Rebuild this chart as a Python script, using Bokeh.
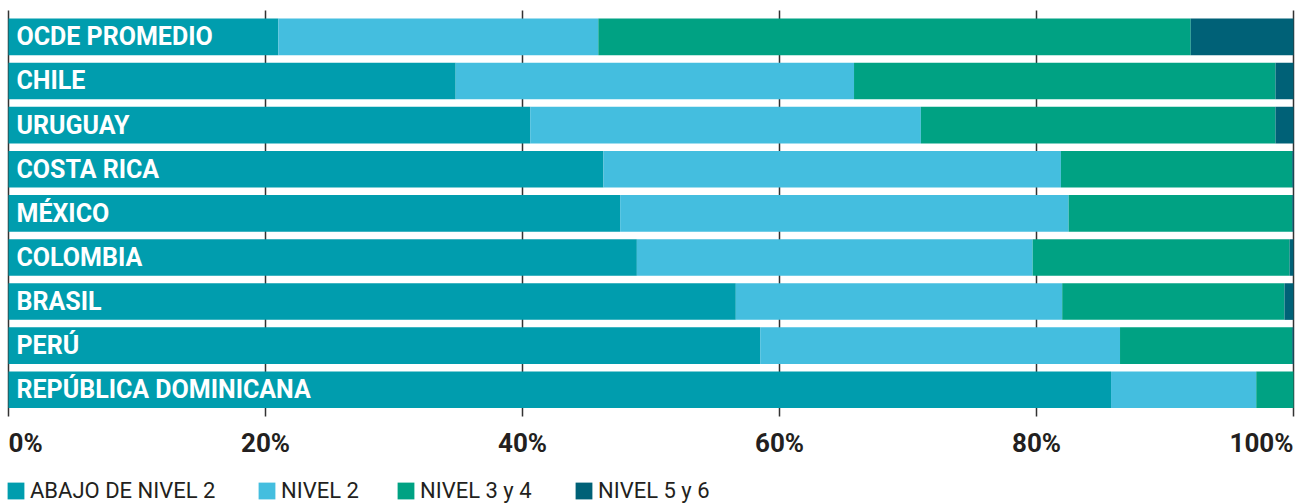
from bokeh.plotting import figure
from bokeh.models import ColumnDataSource, Range1d, Legend, LegendItem
from bokeh.core.properties import value
from bokeh.embed import file_html
from bokeh.resources import INLINE

# Share of students by proficiency level (%), top row first
countries = ["OCDE PROMEDIO", "CHILE", "URUGUAY", "COSTA RICA", "MÉXICO",
             "COLOMBIA", "BRASIL", "PERÚ", "REPÚBLICA DOMINICANA"]
below_2 = [21.0, 34.8, 40.6, 46.3, 47.6, 48.9, 56.6, 58.5, 85.8]
level_2 = [24.9, 31.0, 30.4, 35.6, 34.9, 30.8, 25.4, 28.0, 11.3]
level_3_4 = [46.1, 32.8, 27.6, 18.0, 17.4, 20.0, 17.3, 13.4, 2.9]
level_5_6 = [8.0, 1.4, 1.4, 0.1, 0.1, 0.3, 0.7, 0.1, 0.0]

series_keys = ["below_2", "level_2", "level_3_4", "level_5_6"]
series_names = ["ABAJO DE NIVEL 2", "NIVEL 2", "NIVEL 3 y 4", "NIVEL 5 y 6"]
series_colors = ["#009dae", "#44bedf", "#00a283", "#006177"]

tick_values = [0, 20, 40, 60, 80, 100]
tick_labels = ["0%", "20%", "40%", "60%", "80%", "100%"]

W, H = 1306, 503
n = len(countries)

# pixel geometry of the plotting area (the frame spans the whole canvas)
x0_px, x100_px = 8.0, 1293.0
px_per_pct = (x100_px - x0_px) / 100.0
row_pitch = 44.12          # pixels between bar centres
bottom_row_px = 389.3      # centre of the last bar, from the top


def y_at(py):
    """Data y for a pixel row measured from the top of the canvas."""
    return (bottom_row_px - py) / row_pitch


source = ColumnDataSource(dict(
    country=countries,
    pos=[n - 1 - i for i in range(n)],
    below_2=below_2,
    level_2=level_2,
    level_3_4=level_3_4,
    level_5_6=level_5_6,
))

p = figure(width=W, height=H, output_backend="svg", toolbar_location=None,
           x_range=Range1d(-x0_px / px_per_pct, 100 + (W - x100_px) / px_per_pct),
           y_range=Range1d(y_at(H), y_at(0)),
           x_axis_location=None, y_axis_location=None, min_border=0)
p.outline_line_color = None
p.grid.visible = False
p.background_fill_color = "white"
p.border_fill_color = "white"

# vertical reference lines behind the bars, extending into small tick marks
p.segment(x0=tick_values, x1=tick_values, y0=[y_at(10)] * len(tick_values),
          y1=[y_at(416)] * len(tick_values), line_color="#333333", line_width=1.5)

renderers = p.hbar_stack(series_keys, y="pos", height=0.83, color=series_colors,
                         line_color=None, source=source)

# country names written inside the bars
p.text(x=0, y="pos", text="country", source=source, x_offset=8,
       text_baseline="middle", text_align="left",
       text_font=value("Roboto"), text_font_style="bold",
       text_font_size="25px", text_color="white")

# percentage labels under the ticks
aligns = ["left"] + ["center"] * (len(tick_values) - 2) + ["right"]
p.text(x=tick_values, y=[y_at(442)] * len(tick_values), text=tick_labels,
       text_align=aligns, text_baseline="alphabetic",
       text_font=value("Roboto"), text_font_style="bold",
       text_font_size="26px", text_color="#231f20")

# one legend entry per series, laid out in a row under the chart
legend_x = [5, 256, 395, 573]
for rend, name, lx in zip(renderers, series_names, legend_x):
    leg = Legend(items=[LegendItem(label=name, renderers=[rend])],
                 location=(lx, 0), orientation="horizontal",
                 glyph_width=21, glyph_height=21, label_height=21,
                 label_standoff=4, padding=0, margin=0, spacing=0,
                 border_line_color=None, background_fill_alpha=0,
                 label_text_font="Roboto", label_text_font_size="22px",
                 label_text_color="#231f20")
    p.add_layout(leg)

open("out.html", "w").write(file_html(p, INLINE))
